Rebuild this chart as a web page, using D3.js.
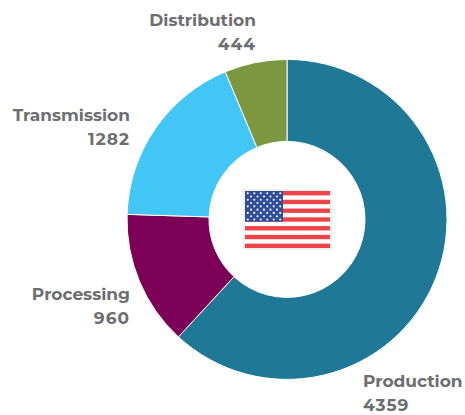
<!DOCTYPE html>
<html><head><meta charset="utf-8">
<style>html,body{margin:0;padding:0;background:#fff}svg{display:block}
text{font-family:"Montserrat","Inter","Open Sans",sans-serif;font-weight:700;font-size:17px;fill:#6d6e71}
tspan.n{letter-spacing:1px}</style>
<script src="https://cdn.jsdelivr.net/npm/d3@7"></script></head><body>
<svg id="c" width="465" height="415"></svg>
<script>
const categories = ["Production","Processing","Transmission","Distribution"];
const values = [4359,960,1282,444];
const colors = ["#1f7896","#7b0056","#41c6f6","#7d9740"];
const labelAnchors = ["start","end","end","end"];
const stripes = d3.range(13);
const starRows = d3.range(9);

const svg = d3.select("#c");
const cx = 287, cy = 219.4, R = 160, r = 78;
const g = svg.append("g").attr("transform",`translate(${cx},${cy})`);
const pie = d3.pie().sort(null).value(d=>d);
const arc = d3.arc().innerRadius(r).outerRadius(R);
g.selectAll("path").data(pie(values)).join("path")
  .attr("d",arc).attr("fill",(d,i)=>colors[i]).attr("stroke","#fff").attr("stroke-width",1);

// labels
const labelPos = [[363,387],[130,300],[130,121],[256,26]];
const lab = svg.selectAll("text.l").data(categories).join("text").attr("class","l")
  .attr("text-anchor",(d,i)=>labelAnchors[i]);
lab.append("tspan").attr("x",(d,i)=>labelPos[i][0]).attr("y",(d,i)=>labelPos[i][1]).text(d=>d);
lab.append("tspan").attr("class","n").attr("x",(d,i)=>labelPos[i][0]).attr("y",(d,i)=>labelPos[i][1]+24).text((d,i)=>values[i]);

// flag
const fx=245, fy=191, fw=85, fh=57;
const flag = svg.append("g");
flag.append("rect").attr("x",fx-1).attr("y",fy-1).attr("width",fw+2).attr("height",fh+2).attr("fill","#fff").attr("stroke","#e4e4e4").attr("stroke-width",1);
const sy = d3.scaleBand().domain(stripes).range([fy,fy+fh]);
flag.selectAll("rect.s").data(stripes.filter(d=>d%2==0)).join("rect").attr("class","s")
  .attr("x",fx).attr("width",fw).attr("y",d=>sy(d)).attr("height",sy.bandwidth()).attr("fill","#ee4449");
const cw=38, ch=sy.bandwidth()*7;
flag.append("rect").attr("x",fx).attr("y",fy).attr("width",cw).attr("height",ch).attr("fill","#2f4d99");
const rowY = d3.scalePoint().domain(starRows).range([fy+2.2,fy+ch-2.2]);
starRows.forEach(row=>{
  const n = row%2==0?6:5;
  const x = d3.scaleLinear().domain([0,10]).range([fx+2.8,fx+cw-2.8]);
  flag.selectAll(null).data(d3.range(n)).join("circle")
    .attr("cx",d=>x(d*2+(row%2?1:0))).attr("cy",rowY(row)).attr("r",1.05).attr("fill","#fff");
});
</script></body></html>
